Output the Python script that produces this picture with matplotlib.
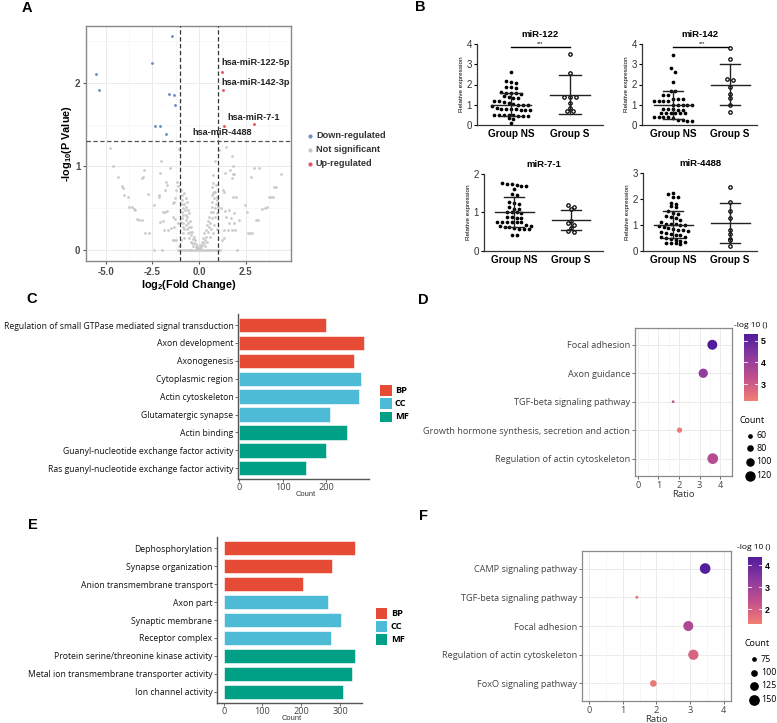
import numpy as np
import matplotlib.pyplot as plt
import matplotlib.patches as mpatches
from matplotlib.lines import Line2D
from matplotlib.colors import LinearSegmentedColormap, Normalize
from matplotlib.cm import ScalarMappable

plt.rcParams['font.family'] = ['Liberation Sans', 'DejaVu Sans']
plt.rcParams['mathtext.fontset'] = 'custom'
plt.rcParams['mathtext.bf'] = 'Liberation Sans:bold'
plt.rcParams['mathtext.rm'] = 'Liberation Sans'

W, H = 777, 723
fig = plt.figure(figsize=(W / 100, H / 100), dpi=100)

def px_axes(l, t, r, b):
    return fig.add_axes([l / W, 1 - b / H, (r - l) / W, (b - t) / H])

def ftext(x, y, s, **kw):
    fig.text(x / W, 1 - y / H, s, **kw)

def pt(d_px):
    # marker area (pt^2) from diameter in pixels
    return (d_px * 0.72) ** 2

# ---------------------------------------------------------------- data
# A: volcano
ns_points = [
    (-4.77, 1.22), (-4.59, 1.01), (-4.36, 0.88), (-4.12, 0.77), (-4.08, 0.74), (-3.99, 0.66),
    (-3.82, 0.63), (-3.73, 0.52), (-3.6, 0.51), (-3.47, 0.49), (-3.41, 0.48), (-3.34, 0.37),
    (-3.2, 0.36), (-3.07, 0.36), (-2.89, 0.2), (-2.69, 0.2), (-2.39, 0.0), (-2.0, 0.0),
    (-1.09, 1.21), (-2.02, 1.07), (-2.93, 0.96), (-2.98, 0.88), (-3.05, 0.86), (-2.75, 0.67),
    (-2.09, 0.92), (-1.77, 0.82), (-1.71, 0.78), (-1.84, 0.72), (-1.55, 0.98), (-1.2, 0.82),
    (-1.14, 0.77), (-1.23, 0.72), (-2.16, 0.66), (-2.12, 0.64), (-2.39, 0.54), (-1.91, 0.46),
    (-1.8, 0.46), (-1.73, 0.47), (-1.41, 0.56), (-1.32, 0.58), (-1.27, 0.62), (-2.09, 0.34),
    (-1.91, 0.35), (-1.86, 0.24), (-1.68, 0.24), (-1.5, 0.26), (-1.38, 0.4), (-1.27, 0.37),
    (-1.14, 0.32), (-1.32, 0.28), (-1.41, 0.12), (-1.32, 0.12), (-1.23, 0.12), (-1.05, 0.05),
    (-0.95, 0.72), (-0.92, 0.66), (-0.9, 0.6), (-0.93, 0.55), (-0.88, 0.5), (-0.91, 0.45),
    (-0.86, 0.42), (-0.89, 0.38), (-0.84, 0.33), (-0.87, 0.28), (-0.82, 0.25), (-0.85, 0.2),
    (-0.8, 0.15), (-0.78, 0.55), (-0.75, 0.48), (-0.72, 0.42), (-0.7, 0.36), (-0.68, 0.3),
    (-0.65, 0.25), (-0.62, 0.4), (-0.6, 0.33), (-0.58, 0.2), (-0.55, 0.28), (-0.52, 0.15),
    (-0.5, 0.35), (-0.48, 0.22), (-0.45, 0.1), (-0.42, 0.28), (-0.4, 0.18), (-0.38, 0.08),
    (-0.35, 0.22), (-0.32, 0.13), (-0.3, 0.05), (-0.27, 0.16), (-0.24, 0.09), (-0.2, 0.12),
    (-0.18, 0.04), (-0.15, 0.07), (-0.12, 0.03), (-0.08, 0.05), (-0.05, 0.02), (-0.72, 0.62),
    (-0.68, 0.52), (-0.64, 0.58), (-0.82, 0.68), (-0.6, 0.48), (-0.55, 0.44), (-0.98, 0.34),
    (-0.96, 0.12), (0.05, 0.02), (0.08, 0.06), (0.12, 0.04), (0.15, 0.1), (0.18, 0.06),
    (0.22, 0.14), (0.25, 0.08), (0.28, 0.2), (0.3, 0.12), (0.33, 0.05), (0.36, 0.24),
    (0.4, 0.16), (0.42, 0.3), (0.45, 0.1), (0.48, 0.22), (0.5, 0.35), (0.53, 0.28),
    (0.56, 0.4), (0.58, 0.16), (0.6, 0.32), (0.63, 0.45), (0.66, 0.25), (0.68, 0.52),
    (0.7, 0.38), (0.72, 0.58), (0.75, 0.2), (0.77, 0.45), (0.8, 0.62), (0.82, 0.3),
    (0.84, 0.5), (0.86, 0.7), (0.88, 0.4), (0.9, 0.55), (0.92, 0.78), (0.94, 0.25),
    (0.96, 0.6), (0.98, 0.44), (0.74, 0.68), (0.7, 0.75), (0.77, 0.9), (0.73, 0.8),
    (0.8, 0.7), (0.68, 0.66), (0.94, 0.64), (1.0, 0.52),
    (-1.12, 0.0), (-1.01, 0.0), (-0.9, 0.0), (-0.79, 0.0), (-0.68, 0.0), (-0.61, 0.0),
    (-0.5, 0.0), (-0.41, 0.0), (-0.3, 0.0), (-0.19, 0.0), (-0.1, 0.0), (0.0, 0.0),
    (0.09, 0.0), (0.21, 0.0), (0.3, 0.0), (0.42, 0.0), (0.51, 0.0), (0.6, 0.0),
    (0.71, 0.0), (0.8, 0.0), (0.92, 0.0), (1.01, 0.0), (1.12, 0.0),
    (1.05, 1.2), (0.88, 1.07), (1.45, 1.23), (1.77, 1.12), (1.84, 1.01), (1.66, 0.96),
    (1.8, 0.91), (1.88, 0.91), (1.77, 0.86), (1.41, 0.92), (1.27, 0.72), (1.36, 0.7),
    (1.8, 0.64), (1.98, 0.64), (1.18, 0.5), (1.41, 0.47), (1.62, 0.48), (1.88, 0.44),
    (1.45, 0.4), (1.71, 0.39), (2.12, 0.36), (1.62, 0.32), (1.87, 0.32), (1.36, 0.24),
    (1.54, 0.24), (1.77, 0.24), (1.95, 0.24), (1.23, 0.12), (1.36, 0.14), (2.02, 0.0),
    (2.48, 0.54), (2.55, 0.46), (2.61, 0.2), (2.73, 0.2), (2.82, 0.2), (2.79, 0.88),
    (2.96, 0.98), (3.2, 0.98), (3.05, 0.36), (3.14, 0.36), (3.4, 0.49), (3.53, 0.5),
    (3.67, 0.51), (3.77, 0.63), (3.86, 0.64), (3.95, 0.64), (4.04, 0.75), (4.13, 0.75),
    (4.39, 0.91),
]
down_fc = [-1.45, -2.54, -5.54, -5.36, -1.59, -1.36, -1.27, -2.34, -2.09, -1.77]
down_p = [2.56, 2.24, 2.11, 1.91, 1.87, 1.86, 1.73, 1.48, 1.49, 1.39]
up_fc = [1.21, 1.29, 2.93, 1.36]
up_p = [2.13, 1.92, 1.51, 1.49]
up_names = ['hsa-miR-122-5p', 'hsa-miR-142-3p', 'hsa-miR-7-1', 'hsa-miR-4488']

# B: relative expression
mir_titles = ['miR-122', 'miR-142', 'miR-7-1', 'miR-4488']
ns_122 = [2.62, 2.15, 2.1, 2.05, 1.9, 1.88, 1.85, 1.62, 1.6, 1.6, 1.58, 1.55, 1.43, 1.4, 1.35,
          1.32, 1.2, 1.18, 1.15, 1.1, 1.02, 1.0, 0.98, 0.97, 0.95, 0.82, 0.8, 0.8, 0.78, 0.77,
          0.76, 0.75, 0.74, 0.5, 0.48, 0.5, 0.47, 0.45, 0.46, 0.48, 0.45, 0.33, 0.32, 0.12]
s_122 = [3.52, 2.55, 1.4, 1.4, 1.4, 1.1, 0.85, 0.7, 0.68]
ns_142 = [3.46, 2.8, 2.6, 2.14, 1.68, 1.68, 1.48, 1.48, 1.3, 1.27, 1.28, 1.2, 1.2, 1.18, 1.2,
          1.0, 0.98, 1.0, 0.97, 1.0, 0.78, 0.77, 0.77, 0.76, 0.75, 0.58, 0.58, 0.57, 0.58,
          0.58, 0.57, 0.38, 0.38, 0.37, 0.38, 0.38, 0.23, 0.22, 0.22, 0.23]
s_142 = [3.8, 3.25, 2.28, 2.22, 1.9, 1.55, 1.35, 1.0, 0.62]
ns_71 = [1.74, 1.71, 1.68, 1.68, 1.74, 1.77, 1.62, 1.45, 1.47, 1.27, 1.25, 1.23, 1.14, 1.1,
         1.1, 1.0, 1.0, 0.99, 1.0, 0.88, 0.86, 0.87, 0.85, 0.76, 0.75, 0.74, 0.76, 0.75, 0.74,
         0.65, 0.64, 0.66, 0.63, 0.62, 0.57, 0.57, 0.58, 0.56, 0.4, 0.41]
s_71 = [1.18, 1.13, 1.1, 0.78, 0.72, 0.68, 0.6, 0.52, 0.5]
ns_4488 = [2.25, 2.18, 2.1, 2.08, 1.85, 1.82, 1.75, 1.7, 1.55, 1.45, 1.42, 1.35, 1.3, 1.25,
           1.18, 1.12, 1.05, 1.05, 1.02, 1.0, 0.98, 0.95, 0.9, 0.88, 0.85, 0.82, 0.8, 0.75,
           0.72, 0.7, 0.65, 0.62, 0.6, 0.55, 0.52, 0.48, 0.45, 0.4, 0.38, 0.35, 0.3, 0.3,
           0.28, 0.25]
s_4488 = [2.48, 1.9, 1.55, 1.25, 0.82, 0.65, 0.45, 0.4, 0.2]
ns_mean = [1.0, 1.0, 1.0, 1.0]
ns_sd = [0.57, 0.7, 0.39, 0.52]
s_mean = [1.5, 2.0, 0.8, 1.08]
s_sd = [0.95, 1.03, 0.26, 0.77]
y_max = [4, 4, 2, 3]
sig_marks = ['***', '***', None, None]
groups = ['Group NS', 'Group S']

# C / E: GO bars
c_terms = ['Regulation of small GTPase mediated signal transduction', 'Axon development',
           'Axonogenesis', 'Cytoplasmic region', 'Actin cytoskeleton', 'Glutamatergic synapse',
           'Actin binding', 'Guanyl-nucleotide exchange factor activity',
           'Ras guanyl-nucleotide exchange factor activity']
c_counts = [200, 285, 263, 278, 275, 208, 247, 199, 153]
c_onto = ['BP', 'BP', 'BP', 'CC', 'CC', 'CC', 'MF', 'MF', 'MF']
e_terms = ['Dephosphorylation', 'Synapse organization', 'Anion transmembrane transport',
           'Axon part', 'Synaptic membrane', 'Receptor complex',
           'Protein serine/threonine kinase activity',
           'Metal ion transmembrane transporter activity', 'Ion channel activity']
e_counts = [340, 280, 204, 268, 303, 277, 339, 331, 308]
e_onto = ['BP', 'BP', 'BP', 'CC', 'CC', 'CC', 'MF', 'MF', 'MF']
onto_names = ['BP', 'CC', 'MF']
onto_colors = {'BP': '#E64B35', 'CC': '#4DBBD5', 'MF': '#00A087'}

# D / F: KEGG dots
d_terms = ['Focal adhesion', 'Axon guidance', 'TGF-beta signaling pathway',
           'Growth hormone synthesis, secretion and action', 'Regulation of actin cytoskeleton']
d_ratio = [3.62, 3.18, 1.72, 2.03, 3.64]
d_count = [130, 123, 54, 81, 138]
d_logp = [5.25, 4.15, 3.3, 2.35, 3.5]
d_count_breaks = [60, 80, 100, 120]
d_logp_breaks = [3, 4, 5]
f_terms = ['CAMP signaling pathway', 'TGF-beta signaling pathway', 'Focal adhesion',
           'Regulation of actin cytoskeleton', 'FoxO signaling pathway']
f_ratio = [3.45, 1.42, 2.95, 3.1, 1.91]
f_count = [167, 71, 159, 162, 117]
f_logp = [4.3, 1.55, 2.7, 1.9, 1.5]
f_count_breaks = [75, 100, 125, 150]
f_logp_breaks = [2, 3, 4]

cmap = LinearSegmentedColormap.from_list('pp', ['#F27D72', '#C2508C', '#8B399F', '#4F1C9C'])

# ---------------------------------------------------------------- panel letters
for lab, x, y in [('A', 27, 8), ('B', 420, 7), ('C', 32, 299), ('D', 423, 300),
                  ('E', 33, 525), ('F', 424, 516)]:
    ftext(x, y, lab, fontsize=10.5, fontweight='bold', ha='center', va='center')

# ---------------------------------------------------------------- A
axA = px_axes(86, 26, 291, 261)
axA.set_xlim(-6.05, 4.93)
axA.set_ylim(-0.13, 2.68)
axA.set_xticks([-5, -2.5, 0, 2.5])
axA.set_xticklabels(['-5.0', '-2.5', '0.0', '2.5'])
axA.set_yticks([0, 1, 2])
axA.set_xticks([-3.75, -1.25, 1.25, 3.75], minor=True)
axA.set_yticks([0.5, 1.5, 2.5], minor=True)
axA.grid(which='major', color='#EBEBEB', lw=0.7)
axA.grid(which='minor', color='#F4F4F4', lw=0.5)
axA.set_axisbelow(True)
for sp in axA.spines.values():
    sp.set_color('#888888')
    sp.set_linewidth(1.0)
axA.tick_params(which='major', length=2, color='#555555', labelsize=7, labelcolor='#4D4D4D', pad=2)
axA.tick_params(which='minor', length=0)
for t in axA.get_xticklabels() + axA.get_yticklabels():
    t.set_fontweight('bold')
nsx = [p[0] for p in ns_points]
nsy = [p[1] for p in ns_points]
axA.scatter(nsx, nsy, s=pt(2.8), color='#C6C6C6', lw=0, alpha=0.9, zorder=2)
axA.scatter(down_fc, down_p, s=pt(2.9), color='#6F8DC8', lw=0, zorder=3)
axA.scatter(up_fc, up_p, s=pt(2.9), color='#E8545E', lw=0, zorder=3)
dash = (0, (3.5, 2))
axA.axvline(-1, color='#333333', lw=0.9, ls=dash, zorder=4)
axA.axvline(1, color='#333333', lw=0.9, ls=dash, zorder=4)
axA.axhline(1.3, color='#555555', lw=0.9, ls=dash, zorder=4)
lab_pos = [(1.21, 2.24), (1.21, 2.0), (1.54, 1.59), (-0.34, 1.41)]
for name, (lx, ly) in zip(up_names, lab_pos):
    axA.text(lx, ly, name, fontsize=6.6, fontweight='bold', color='#222222',
             ha='left', va='center', zorder=5)
axA.set_xlabel(r'log$_{\mathbf{2}}$(Fold Change)', fontsize=7.8, fontweight='bold', labelpad=1)
axA.set_ylabel(r'-log$_{\mathbf{10}}$(P Value)', fontsize=7.8, fontweight='bold', labelpad=1)

for lab, col, yy in [('Down-regulated', '#6F8DC8', 135.7), ('Not significant', '#C6C6C6', 149.7),
                     ('Up-regulated', '#E8545E', 163.7)]:
    fig.add_artist(Line2D([310 / W], [1 - yy / H], marker='o', ms=2.0, color=col, lw=0,
                          transform=fig.transFigure))
    ftext(316, yy, lab, fontsize=6.6, fontweight='bold', color='#333333', va='center')

# ---------------------------------------------------------------- B
def swarm(vals, center, h, dx):
    rows = {}
    for v in sorted(vals, reverse=True):
        rows.setdefault(int(round(v / h)), []).append(v)
    xs, ys = [], []
    for key, rv in rows.items():
        n = len(rv)
        for i, v in enumerate(rv):
            xs.append(center + (i - (n - 1) / 2) * dx)
            ys.append(v)
    return xs, ys

b_boxes = [(477, 44, 603, 125), (642, 44, 757, 125), (484, 174, 603, 250.7), (643, 173.3, 757, 250.7)]
b_xlims = [(0.424, 2.56), (0.456, 2.47), (0.47, 2.56), (0.47, 2.47)]
b_ns = [ns_122, ns_142, ns_71, ns_4488]
b_s = [s_122, s_142, s_71, s_4488]
for k in range(4):
    l, t, r, b = b_boxes[k]
    ax = px_axes(l, t, r, b)
    x0, x1 = b_xlims[k]
    ax.set_xlim(x0, x1)
    ax.set_ylim(0, y_max[k])
    ppx = (r - l) / (x1 - x0)
    ppy = (b - t) / y_max[k]
    xs, ys = swarm(b_ns[k], 1, 5.5 / ppy, 4.8 / ppx)
    ax.scatter(xs, ys, s=pt(3.7), color='black', lw=0, zorder=3, clip_on=False)
    xs, ys = swarm(b_s[k], 2, 4.5 / ppy, 5.6 / ppx)
    ax.scatter(xs, ys, s=pt(3.4), facecolor='white', edgecolor='black', lw=0.9, zorder=3,
               clip_on=False)
    for cx, m, sd in [(1, ns_mean[k], ns_sd[k]), (2, s_mean[k], s_sd[k])]:
        ax.plot([cx - 0.34, cx + 0.34], [m, m], color='#222222', lw=1.0, zorder=4)
        ax.plot([cx, cx], [m - sd, m + sd], color='#222222', lw=1.0, zorder=4)
        for yy in (m - sd, m + sd):
            ax.plot([cx - 0.18, cx + 0.18], [yy, yy], color='#222222', lw=1.0, zorder=4)
    for sp in ['top', 'right']:
        ax.spines[sp].set_visible(False)
    for sp in ['left', 'bottom']:
        ax.spines[sp].set_color('#333333')
        ax.spines[sp].set_linewidth(0.9)
    ax.set_yticks(range(0, y_max[k] + 1))
    ax.set_xticks([1, 2])
    ax.set_xticklabels(groups, fontsize=7.2, fontweight='bold')
    ax.tick_params(axis='y', length=2.5, width=0.8, labelsize=7, pad=1, labelcolor='#333333')
    ax.tick_params(axis='x', length=0, pad=3)
    ax.set_ylabel('Relative expression', fontsize=4.6, labelpad=2)
    ax.set_title(mir_titles[k], fontsize=6.8, fontweight='bold', pad=5)
    if sig_marks[k]:
        top = y_max[k] * 0.965
        ax.plot([1, 2], [top, top], color='black', lw=1.0, clip_on=False)
        ax.text(1.5, top + 0.04 * y_max[k], sig_marks[k], fontsize=4, ha='center', va='center')

# ---------------------------------------------------------------- C / E
def go_bars(box, terms, counts, onto, xlim, xticks, count_y):
    l, t, r, b = box
    ax = px_axes(l, t, r, b)
    idx = np.arange(len(terms))
    ax.barh(idx, counts, height=0.8, color=[onto_colors[o] for o in onto],
            edgecolor='white', lw=0.4)
    ax.set_ylim(len(terms) - 0.4, -0.6)
    ax.set_xlim(*xlim)
    ax.set_yticks(idx)
    ax.set_yticklabels(terms, fontsize=6.2, family='Open Sans', color='#111111')
    ax.set_xticks(xticks)
    ax.tick_params(axis='y', length=2, width=0.6, color='#555555', pad=1.5)
    ax.tick_params(axis='x', length=2, width=0.6, color='#555555', pad=1, labelsize=6.6,
                   labelcolor='#444444')
    for tl in ax.get_xticklabels():
        tl.set_family('Open Sans')
    for sp in ['top', 'right']:
        ax.spines[sp].set_visible(False)
    for sp in ['left', 'bottom']:
        ax.spines[sp].set_color('#555555')
        ax.spines[sp].set_linewidth(1.0)
    ftext((l + r) / 2 + 2, count_y, 'Count', fontsize=5.4, ha='center', va='center',
          color='#333333')
    return ax

go_bars((238.3, 314.3, 369.3, 479), c_terms, c_counts, c_onto, (-1.5, 298), [0, 100, 200], 495)
go_bars((217.3, 537.3, 361.7, 702.7), e_terms, e_counts, e_onto, (-16.5, 356), [0, 100, 200, 300], 719)

for x0, ys in [(380, [385, 398.3, 411.7]), (375.7, [608.3, 621, 634])]:
    for name, yy in zip(onto_names, ys):
        fig.add_artist(mpatches.Rectangle((x0 / W, 1 - (yy + 10.7) / H), 11.5 / W, 10.7 / H,
                                          transform=fig.transFigure, facecolor=onto_colors[name],
                                          edgecolor='none'))
        ftext(x0 + 15, yy + 5.3, name, fontsize=6.6, fontweight='bold', va='center',
              family='Open Sans')

# ---------------------------------------------------------------- D / F
def kegg_dots(box, terms, ratio, count, logp, xlim, norm, diam, cbox, cticks, title_xy,
              leg_x, leg_ys, leg_breaks, count_xy):
    l, t, r, b = box
    ax = px_axes(l, t, r, b)
    idx = np.arange(len(terms))
    ax.set_xlim(*xlim)
    ax.set_ylim(len(terms) - 0.4, -0.6)
    ax.set_xticks([0, 1, 2, 3, 4])
    ax.set_xticks([0.5, 1.5, 2.5, 3.5], minor=True)
    ax.set_yticks(idx)
    ax.set_yticklabels(terms, fontsize=6.0, family='Open Sans', color='#111111')
    ax.grid(which='major', color='#EBEBEB', lw=0.7)
    ax.grid(which='minor', axis='x', color='#F4F4F4', lw=0.5)
    ax.set_axisbelow(True)
    ax.tick_params(which='major', length=2, width=0.6, color='#555555', pad=1.5,
                   labelsize=6.6, labelcolor='#444444')
    ax.tick_params(which='minor', length=0)
    for tl in ax.get_xticklabels():
        tl.set_family('Open Sans')
    for sp in ax.spines.values():
        sp.set_color('#8A8A8A')
        sp.set_linewidth(0.9)
    ax.scatter(ratio, idx, s=[pt(diam(c)) for c in count], c=logp, cmap=cmap, norm=norm,
               lw=0, zorder=3)
    ax.set_xlabel('Ratio', fontsize=6.8, labelpad=0, family='Open Sans', color='#333333')

    cl, ct, cr, cb = cbox
    cax = px_axes(cl, ct, cr, cb)
    cbar = fig.colorbar(ScalarMappable(norm=norm, cmap=cmap), cax=cax)
    cbar.outline.set_visible(False)
    cbar.set_ticks(cticks)
    cax.tick_params(length=0, labelsize=6.4, pad=2)
    for tl in cax.get_yticklabels():
        tl.set_fontweight('bold')
    for v in cticks:
        cax.plot([0, 0.2], [v, v], color='white', lw=0.6, transform=cax.get_yaxis_transform())
        cax.plot([0.8, 1], [v, v], color='white', lw=0.6, transform=cax.get_yaxis_transform())
    ftext(title_xy[0], title_xy[1], '-log 10 ()', fontsize=6.0, ha='center', va='center',
          family='Open Sans')
    ftext(count_xy[0], count_xy[1], 'Count', fontsize=6.4, ha='center', va='center',
          family='Open Sans')
    for v, yy in zip(leg_breaks, leg_ys):
        fig.add_artist(Line2D([leg_x / W], [1 - yy / H], marker='o', ms=diam(v) * 0.72,
                              color='black', lw=0, transform=fig.transFigure))
        ftext(leg_x + 6.5, yy, str(v), fontsize=6.4, va='center', family='Open Sans')
    return ax

kegg_dots((635, 327.7, 731.7, 475.7), d_terms, d_ratio, d_count, d_logp, (-0.13, 4.56),
          Normalize(2.23, 5.31), lambda c: -2.4 + 0.095 * c,
          (744, 334, 758, 400.7), d_logp_breaks, (751, 325.7),
          750, [435.7, 448.3, 461.7, 475.7], d_count_breaks, (751.7, 420))
kegg_dots((581.7, 551.3, 730.7, 700.7), f_terms, f_ratio, f_count, f_logp, (-0.22, 4.21),
          Normalize(1.33, 4.38), lambda c: -2.7 + 0.08 * c,
          (747.7, 556.7, 761.7, 624), f_logp_breaks, (754, 547.3),
          754.3, [659.3, 672.7, 686, 700], f_count_breaks, (757.5, 644))

fig.savefig('out.png', dpi=100)
